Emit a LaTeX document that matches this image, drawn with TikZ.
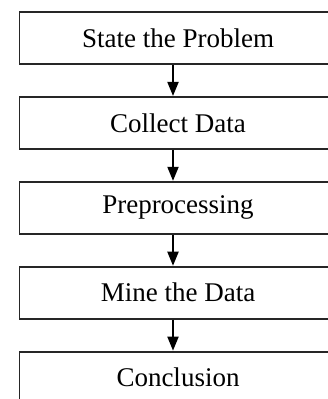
\documentclass[tikz,border=0pt]{standalone}
\usepackage{fontspec}
\setmainfont{Liberation Serif}
\usetikzlibrary{positioning,arrows.meta}
\tikzset{
  stage/.style={draw=black!85, line width=1.9pt, minimum width=317pt, minimum height=52pt, inner sep=0pt, font=\fontsize{27}{32}\selectfont},
  flow/.style={-{Triangle[width=11pt,length=14pt]}, line width=1.9pt},
}
\begin{document}
\begin{tikzpicture}[x=1pt,y=1pt,node distance=31pt]
  \useasboundingbox (0,0) rectangle (328,399);
  \clip (0,0) rectangle (328,399);
  % the five stages
  \node[stage] (problem) at (178,361) {State the Problem};
  \node[stage, below=of problem] (collect) {Collect Data};
  \node[stage, below=of collect] (prep) {Preprocessing};
  \node[stage, below=of prep] (mine) {Mine the Data};
  \node[stage, below=of mine] (concl) {Conclusion};
  % arrows
  \draw[flow] ([xshift=-5pt]problem.south) -- ([xshift=-5pt]collect.north);
  \draw[flow] ([xshift=-5pt]collect.south) -- ([xshift=-5pt]prep.north);
  \draw[flow] ([xshift=-5pt]prep.south) -- ([xshift=-5pt]mine.north);
  \draw[flow] ([xshift=-5pt]mine.south) -- ([xshift=-5pt]concl.north);
\end{tikzpicture}
\end{document}
